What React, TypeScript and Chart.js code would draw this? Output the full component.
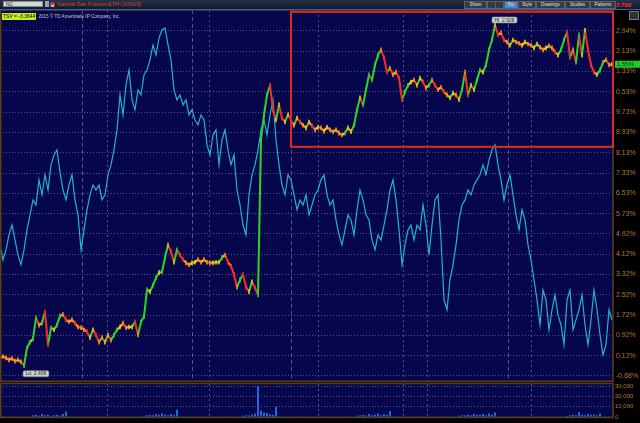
import React, { useEffect, useRef } from "react";
import { Chart, registerables } from "chart.js";

Chart.register(...registerables);

// ---------- data (x = bar index, one bar every 3 px-equivalent of time) ----------
const X_MAX = 204.33;

const TSV_VALUES = [
  4.49, 3.9, 4.29, 4.88, 5.27, 4.68, 4.09, 3.7, 4.29, 5.08,
  5.67, 6.26, 6.06, 7.05, 6.46, 7.25, 6.65, 7.64, 8.03, 8.23,
  7.36, 6.65, 6.26, 6.85, 7.25, 6.26, 5.67, 4.29, 5.08, 5.87,
  6.46, 6.85, 6.65, 6.85, 6.26, 6.46, 7.25, 7.64, 8.23, 9.02,
  10.4, 9.61, 10.79, 11.38, 10.2, 9.81, 10.59, 10.4, 11.19, 11.38,
  11.78, 12.37, 11.97, 12.64, 12.96, 13.04, 12.37, 11.78, 10.59, 10.2,
  10.4, 10.0, 10.2, 9.61, 9.81, 9.41, 9.22, 9.61, 9.41, 8.43,
  8.03, 8.82, 9.02, 7.64, 8.62, 9.02, 8.23, 7.64, 8.03, 6.65,
  6.06, 5.27, 4.88, 6.46, 7.25, 7.64, 8.23, 9.02, 9.41, 8.82,
  9.61, 10.2, 8.62, 7.64, 6.85, 6.46, 7.25, 7.05, 6.46, 5.87,
  6.26, 6.06, 6.46, 5.67, 6.06, 6.46, 6.65, 7.05, 7.25, 6.46,
  6.06, 6.26, 5.47, 4.88, 4.49, 5.08, 5.67, 5.47, 4.88, 5.87,
  6.65, 6.26, 5.67, 5.47, 4.68, 4.29, 4.88, 4.68, 5.27, 5.87,
  6.65, 7.05, 6.26, 5.08, 3.7, 4.49, 5.08, 5.27, 4.68, 5.27,
  5.08, 6.06, 5.27, 4.09, 5.27, 6.26, 6.46, 4.68, 2.32, 1.93,
  3.11, 3.7, 4.49, 5.47, 6.06, 6.26, 6.65, 6.46, 6.85, 7.05,
  7.25, 7.64, 7.25, 7.84, 8.23, 8.43, 7.64, 7.05, 6.26, 6.85,
  7.25, 6.46, 5.67, 5.08, 5.87, 5.47, 4.49, 3.9, 3.11, 2.32,
  1.33, 2.71, 2.32, 1.14, 1.93, 2.52, 1.73, 1.33, 0.55, 2.32,
  2.71, 1.14, 1.53, 1.93, 2.52, 1.33, 0.55, 1.53, 2.71, 1.93,
  0.94, 0.15, 0.55, 1.93, 1.53,
];

const PRICE_VALUES = [
  2.42, 2.422, 2.42, 2.417, 2.419, 2.415, 2.417, 2.414, 2.408, 2.435,
  2.444, 2.449, 2.481, 2.47, 2.473, 2.49, 2.44, 2.466, 2.463, 2.47,
  2.484, 2.486, 2.478, 2.475, 2.478, 2.473, 2.467, 2.466, 2.463, 2.46,
  2.451, 2.463, 2.455, 2.444, 2.451, 2.444, 2.455, 2.447, 2.455, 2.463,
  2.467, 2.473, 2.466, 2.467, 2.467, 2.475, 2.455, 2.475, 2.483, 2.524,
  2.521, 2.531, 2.542, 2.55, 2.551, 2.573, 2.592, 2.582, 2.566, 2.585,
  2.577, 2.57, 2.565, 2.562, 2.565, 2.566, 2.57, 2.566, 2.57, 2.566,
  2.565, 2.565, 2.566, 2.566, 2.573, 2.577, 2.566, 2.56, 2.547, 2.528,
  2.539, 2.547, 2.528, 2.521, 2.536, 2.527, 2.516, 2.753, 2.791, 2.821,
  2.836, 2.798, 2.783, 2.806, 2.786, 2.78, 2.791, 2.783, 2.775, 2.786,
  2.78, 2.775, 2.771, 2.78, 2.774, 2.768, 2.772, 2.771, 2.766, 2.772,
  2.768, 2.765, 2.768, 2.763, 2.76, 2.763, 2.771, 2.765, 2.775, 2.798,
  2.817, 2.806, 2.829, 2.852, 2.844, 2.867, 2.882, 2.89, 2.878, 2.856,
  2.862, 2.852, 2.856, 2.847, 2.814, 2.826, 2.836, 2.841, 2.844, 2.836,
  2.847, 2.841, 2.832, 2.836, 2.844, 2.836, 2.829, 2.833, 2.826, 2.821,
  2.817, 2.824, 2.821, 2.814, 2.829, 2.856, 2.821, 2.836, 2.829, 2.844,
  2.859, 2.856, 2.867, 2.89, 2.905, 2.928, 2.913, 2.916, 2.905, 2.902,
  2.897, 2.905, 2.902, 2.9, 2.897, 2.902, 2.899, 2.897, 2.893, 2.899,
  2.894, 2.89, 2.893, 2.896, 2.893, 2.887, 2.882, 2.89, 2.905, 2.917,
  2.878, 2.89, 2.871, 2.913, 2.882, 2.92, 2.89, 2.867, 2.856, 2.852,
  2.859, 2.871, 2.875, 2.867, 2.868,
];

const VOLUME_VALUES = [
  0, 0, 0, 0, 0, 0, 0, 0, 0, 0,
  0, 1500, 2000, 1000, 2500, 1500, 2000, 1000, 1500, 2000,
  1200, 2500, 5000, 0, 0, 0, 0, 0, 0, 0,
  0, 0, 0, 0, 0, 0, 0, 0, 0, 0,
  0, 0, 0, 0, 0, 0, 0, 0, 1000, 1500,
  2000, 1500, 2500, 1800, 3000, 2000, 1500, 2500, 2000, 7000,
  0, 0, 0, 0, 0, 0, 0, 0, 0, 0,
  0, 0, 0, 0, 0, 0, 0, 0, 0, 0,
  0, 1000, 1500, 1200, 2000, 3000, 30000, 6000, 4000, 3500,
  2500, 2000, 9500, 0, 0, 0, 0, 0, 0, 0,
  0, 0, 0, 0, 0, 0, 0, 0, 0, 0,
  0, 0, 0, 0, 0, 0, 0, 0, 0, 1000,
  1500, 2000, 1200, 2500, 1500, 2000, 3000, 1500, 2500, 2000,
  5500, 0, 0, 0, 0, 0, 0, 0, 0, 0,
  0, 0, 0, 0, 0, 0, 0, 0, 0, 0,
  0, 0, 0, 1000, 1500, 1200, 2000, 1500, 2500, 1800,
  2000, 2500, 1500, 3000, 2000, 4000, 0, 0, 0, 0,
  0, 0, 0, 0, 0, 0, 0, 0, 0, 0,
  0, 0, 0, 0, 0, 0, 0, 0, 0, 1000,
  1500, 2000, 1500, 4500, 2000, 1500, 2500, 1800, 2000, 1500,
  3000, 0, 0, 0, 0,
];

const DAY_LABELS = ["Wed", "Thu", "Fri", "Sun", "Mon", "Tue"];
const DAY_POSITIONS = [35.67, 69.67, 106, 134.33, 142.33, 177];
const SESSION_POSITIONS = [27.33, 64, 97, 169.33];

const TSV_TICK_VALUES = [-0.68, 0.12, 0.92, 1.72, 2.52, 3.32, 4.12, 4.92, 5.72, 6.52, 7.32, 8.12, 8.92, 9.72, 10.52, 11.32, 12.12, 12.92];
const TSV_TICK_LABELS = ["-0.68%", "0.12%", "0.92%", "1.72%", "2.52%", "3.32%", "4.12%", "4.92%", "5.73%", "6.53%", "7.33%", "8.13%", "8.93%", "9.73%", "0.53%", "1.33%", "2.13%", "2.94%"];
const TSV_RANGE = [-0.871, 13.746];
const PRICE_RANGE = [2.385, 2.9508];

const VOLUME_TICK_VALUES = [0, 10000, 20000, 30000];
const VOLUME_TICK_LABELS = ["0", "10,000", "20,000", "30,000"];
const VOLUME_MAX = 32350;

const HIGHLIGHT_BOX = { x0: 97, x1: X_MAX, pLow: 2.742, pHigh: 2.948 };
const LAST_PRICE_LABEL = "1.55%";
const TSV_READOUT = "TSV = -3.3644";
const COPYRIGHT = "2015 © TD Ameritrade IP Company, Inc.";
const SYMBOL = "NG";
const TITLE = "Natural Gas Futures,ETH (JUN15)";
const LAST_QUOTE = "2.798";

// ---------- styles ----------
const NAVY = "#06064c";
const BROWN = "#5e3c1c";
const AXIS_TEXT = "#b8782c";
const GRID = "rgba(150,120,175,0.6)";
const VLINE = "rgba(150,140,190,0.55)";
const FONT = "'Liberation Sans', Arial, sans-serif";
const UP = "#2bd62a";
const DOWN = "#ff2b22";
const FLAT_UP = "#f2c818";
const FLAT_DOWN = "#ff8e1c";

function drawBubble(ctx: CanvasRenderingContext2D, text: string, left: number, top: number) {
  ctx.save();
  ctx.font = `5px ${FONT}`;
  const w = ctx.measureText(text).width + 5;
  const h = 6;
  ctx.fillStyle = "#cfcfcf";
  ctx.strokeStyle = "#8a8a8a";
  ctx.lineWidth = 0.6;
  ctx.beginPath();
  (ctx as any).roundRect(left, top, w, h, 1.5);
  ctx.fill();
  ctx.stroke();
  ctx.fillStyle = "#303030";
  ctx.textBaseline = "middle";
  ctx.fillText(text, left + 2.5, top + h / 2 + 0.3);
  ctx.restore();
}

const mainDeco = {
  id: "mainDeco",
  beforeDraw(chart: any) {
    const { ctx, chartArea: a } = chart;
    ctx.save();
    ctx.fillStyle = NAVY;
    ctx.fillRect(a.left, a.top, a.right - a.left, a.bottom - a.top);
    ctx.restore();
  },
  beforeDatasetsDraw(chart: any) {
    const { ctx, chartArea: a, scales } = chart;
    const xs = scales.x;
    ctx.save();
    ctx.lineWidth = 1;
    ctx.strokeStyle = VLINE;
    ctx.setLineDash([4, 3]);
    for (const v of SESSION_POSITIONS) {
      const px = Math.round(xs.getPixelForValue(v)) + 0.5;
      ctx.beginPath();
      ctx.moveTo(px, a.top);
      ctx.lineTo(px, a.bottom);
      ctx.stroke();
    }
    ctx.setLineDash([2, 3]);
    for (const v of DAY_POSITIONS) {
      const px = Math.round(xs.getPixelForValue(v)) + 0.5;
      ctx.beginPath();
      ctx.moveTo(px, a.top);
      ctx.lineTo(px, a.bottom);
      ctx.stroke();
    }
    ctx.restore();
  },
  afterDraw(chart: any) {
    const { ctx, chartArea: a, scales } = chart;
    const xs = scales.x;
    const yp = scales.yP;
    ctx.save();
    ctx.strokeStyle = BROWN;
    ctx.lineWidth = 1.5;
    ctx.strokeRect(a.left + 0.75, a.top, a.right - a.left - 0.75, a.bottom - a.top + 0.5);
    const bx0 = xs.getPixelForValue(HIGHLIGHT_BOX.x0);
    const bx1 = xs.getPixelForValue(HIGHLIGHT_BOX.x1);
    const by0 = yp.getPixelForValue(HIGHLIGHT_BOX.pHigh);
    const by1 = yp.getPixelForValue(HIGHLIGHT_BOX.pLow);
    ctx.strokeStyle = "#e4271c";
    ctx.lineWidth = 2;
    ctx.strokeRect(bx0, by0, bx1 - bx0, by1 - by0);
    let hiI = 0;
    let loI = 0;
    PRICE_VALUES.forEach((v, i) => {
      if (v > PRICE_VALUES[hiI]) hiI = i;
      if (v < PRICE_VALUES[loI]) loI = i;
    });
    const hx = xs.getPixelForValue(hiI);
    const hy = yp.getPixelForValue(PRICE_VALUES[hiI]);
    drawBubble(ctx, `Hi: ${PRICE_VALUES[hiI].toFixed(3)}`, hx - 3, hy - 8);
    const lx = xs.getPixelForValue(loI);
    const ly = yp.getPixelForValue(PRICE_VALUES[loI]);
    drawBubble(ctx, `Lo: ${PRICE_VALUES[loI].toFixed(3)}`, lx - 1, ly + 5);
    const last = PRICE_VALUES[PRICE_VALUES.length - 1];
    const my = yp.getPixelForValue(last);
    ctx.fillStyle = "#1fcc2a";
    ctx.fillRect(a.right + 2, my - 3.5, chart.width - a.right - 2, 7);
    ctx.fillStyle = "#0a2a0a";
    ctx.font = `6px ${FONT}`;
    ctx.textBaseline = "middle";
    ctx.fillText(LAST_PRICE_LABEL, a.right + 4, my + 0.3);
    ctx.restore();
  },
};

const volDeco = {
  id: "volDeco",
  beforeDraw(chart: any) {
    const { ctx, chartArea: a } = chart;
    ctx.save();
    ctx.fillStyle = NAVY;
    ctx.fillRect(a.left, a.top, a.right - a.left, a.bottom - a.top);
    ctx.restore();
  },
  beforeDatasetsDraw(chart: any) {
    const { ctx, chartArea: a, scales } = chart;
    ctx.save();
    ctx.lineWidth = 1;
    ctx.strokeStyle = VLINE;
    ctx.setLineDash([2, 3]);
    for (const v of DAY_POSITIONS) {
      const px = Math.round(scales.x.getPixelForValue(v)) + 0.5;
      ctx.beginPath();
      ctx.moveTo(px, a.top);
      ctx.lineTo(px, a.bottom);
      ctx.stroke();
    }
    ctx.restore();
  },
  afterDraw(chart: any) {
    const { ctx, chartArea: a } = chart;
    ctx.save();
    ctx.strokeStyle = BROWN;
    ctx.lineWidth = 1.5;
    ctx.strokeRect(a.left + 0.75, a.top - 0.5, a.right - a.left - 0.75, a.bottom - a.top + 1);
    ctx.restore();
  },
};

// colour of a price move: strong up green, strong down red, small moves yellow / orange
function moveColor(d: number) {
  if (d > 0.006) return UP;
  if (d < -0.006) return DOWN;
  if (d > 0.002) return FLAT_UP;
  if (d < -0.002) return FLAT_DOWN;
  return d >= 0 ? "#9fd23a" : "#ff5a2a";
}

function priceSegmentColor(c: any) {
  return moveColor(c.p1.parsed.y - c.p0.parsed.y);
}

function pricePointColor(c: any) {
  const i = c.dataIndex;
  if (i === undefined) return FLAT_UP;
  const next = PRICE_VALUES[Math.min(i + 1, PRICE_VALUES.length - 1)];
  const prev = PRICE_VALUES[Math.max(i - 1, 0)];
  const d = next - prev;
  return d > 0 ? (d > 0.01 ? UP : FLAT_UP) : d < -0.01 ? DOWN : FLAT_DOWN;
}

export default function App() {
  const mainRef = useRef<HTMLCanvasElement | null>(null);
  const volRef = useRef<HTMLCanvasElement | null>(null);

  useEffect(() => {
    const priceData = PRICE_VALUES.map((v, i) => ({ x: i, y: v }));
    const tsvData = TSV_VALUES.map((v, i) => ({ x: i, y: v }));
    const volData = VOLUME_VALUES.map((v, i) => ({ x: i, y: v }));

    const main = new Chart(mainRef.current as HTMLCanvasElement, {
      type: "line",
      data: {
        datasets: [
          {
            label: "Natural Gas Futures",
            data: priceData,
            yAxisID: "yP",
            borderWidth: 2,
            borderColor: FLAT_UP,
            segment: { borderColor: priceSegmentColor },
            pointStyle: "line",
            rotation: 90,
            pointRadius: 2.3,
            pointBorderWidth: 1.6,
            pointBorderColor: pricePointColor,
            pointBackgroundColor: pricePointColor,
          } as any,
          {
            label: "TSV",
            data: tsvData,
            yAxisID: "y",
            borderWidth: 1.2,
            pointRadius: 0,
            borderColor: "#22b4c8",
          },
        ],
      },
      options: {
        animation: false,
        responsive: false,
        events: [],
        layout: { autoPadding: false, padding: { top: 10, bottom: 7, left: 0, right: 0 } },
        plugins: { legend: { display: false }, tooltip: { enabled: false } },
        scales: {
          x: { type: "linear", min: 0, max: X_MAX, display: false },
          yP: { type: "linear", min: PRICE_RANGE[0], max: PRICE_RANGE[1], display: false },
          y: {
            type: "linear",
            position: "right",
            min: TSV_RANGE[0],
            max: TSV_RANGE[1],
            afterBuildTicks: (axis: any) => {
              axis.ticks = TSV_TICK_VALUES.map((v) => ({ value: v }));
            },
            afterFit: (axis: any) => {
              axis.width = 27;
            },
            ticks: {
              autoSkip: false,
              color: AXIS_TEXT,
              padding: 3,
              font: { size: 7, family: FONT },
              callback: (_v: any, i: number) => TSV_TICK_LABELS[i],
            },
            grid: { color: GRID, lineWidth: 1, drawTicks: false },
            border: { display: false, dash: [1, 2] },
          } as any,
        },
      } as any,
      plugins: [mainDeco],
    });

    const vol = new Chart(volRef.current as HTMLCanvasElement, {
      type: "bar",
      data: {
        datasets: [
          {
            label: "Volume",
            data: volData,
            backgroundColor: "#2a6ee0",
            barThickness: 1.2,
            yAxisID: "yV",
          } as any,
        ],
      },
      options: {
        animation: false,
        responsive: false,
        events: [],
        layout: { autoPadding: false, padding: { top: 7, bottom: 0, left: 0, right: 0 } },
        plugins: { legend: { display: false }, tooltip: { enabled: false } },
        scales: {
          x: {
            type: "linear",
            min: 0,
            max: X_MAX,
            offset: false,
            grid: { display: false },
            border: { display: false },
            afterBuildTicks: (axis: any) => {
              axis.ticks = DAY_POSITIONS.map((v) => ({ value: v }));
            },
            afterFit: (axis: any) => {
              axis.height = 6;
            },
            ticks: {
              autoSkip: false,
              maxRotation: 0,
              align: "start",
              padding: 0,
              color: AXIS_TEXT,
              font: { size: 6, family: FONT },
              callback: (_v: any, i: number) => DAY_LABELS[i],
            },
          } as any,
          yV: {
            type: "linear",
            position: "right",
            min: 0,
            max: VOLUME_MAX,
            afterBuildTicks: (axis: any) => {
              axis.ticks = VOLUME_TICK_VALUES.map((v) => ({ value: v }));
            },
            afterFit: (axis: any) => {
              axis.width = 27;
            },
            ticks: {
              autoSkip: false,
              color: AXIS_TEXT,
              padding: 2,
              font: { size: 6, family: FONT },
              callback: (_v: any, i: number) => VOLUME_TICK_LABELS[i],
            },
            grid: { color: GRID, lineWidth: 1, drawTicks: false },
            border: { display: false, dash: [1, 2] },
          } as any,
        },
      } as any,
      plugins: [volDeco],
    });

    return () => {
      main.destroy();
      vol.destroy();
    };
  }, []);

  const btn = (label: string, left: number, width: number, bg = "#353a46") => (
    <div
      style={{
        position: "absolute",
        left,
        top: 1,
        width,
        height: 6,
        background: bg,
        border: "0.5px solid #5a606c",
        color: "#e0e0e0",
        fontSize: 4.5,
        lineHeight: "6px",
        textAlign: "center",
        overflow: "hidden",
        whiteSpace: "nowrap",
      }}
    >
      {label}
    </div>
  );

  return (
    <div
      style={{
        position: "fixed",
        left: 0,
        top: 0,
        width: 640,
        height: 423,
        background: "#000",
        overflow: "hidden",
        fontFamily: FONT,
      }}
    >
      <canvas ref={mainRef} width={640} height={388} style={{ position: "absolute", left: 0, top: 0, width: 640, height: 388 }} />
      <canvas ref={volRef} width={640} height={46} style={{ position: "absolute", left: 0, top: 377, width: 640, height: 46 }} />

      <div
        style={{
          position: "absolute",
          left: 0,
          top: 0,
          width: 640,
          height: 9,
          background: "linear-gradient(#27324a, #111a2b)",
          borderBottom: "1px solid #2b64b4",
        }}
      >
        <div
          style={{
            position: "absolute",
            left: 3,
            top: 1,
            width: 40,
            height: 6,
            background: "#d6d6d6",
            border: "0.5px solid #888",
            color: "#222",
            fontSize: 4.5,
            lineHeight: "6px",
            paddingLeft: 2,
            boxSizing: "border-box",
          }}
        >
          {SYMBOL}
        </div>
        <div style={{ position: "absolute", left: 45, top: 1, width: 4, height: 6, background: "#9aa0aa" }} />
        <div
          style={{
            position: "absolute",
            left: 50,
            top: 1.5,
            width: 5,
            height: 5,
            borderRadius: 3,
            background: "conic-gradient(#e33 0 33%, #fc3 0 66%, #36f 0)",
          }}
        />
        <div style={{ position: "absolute", left: 57, top: 1, color: "#d8461e", fontSize: 5.5, lineHeight: "7px", whiteSpace: "nowrap" }}>
          {TITLE}
        </div>
        {btn("Share", 464, 21)}
        {btn("", 487, 7)}
        {btn("", 495, 7)}
        {btn("5m", 504, 12, "#4d86c8")}
        {btn("Style", 518, 16)}
        {btn("Drawings", 536, 27)}
        {btn("Studies", 565, 23)}
        {btn("Patterns", 590, 24)}
        <div style={{ position: "absolute", left: 616, top: 0.5, color: "#ff2a22", fontSize: 6, fontWeight: 700, lineHeight: "8px" }}>
          {LAST_QUOTE}
        </div>
      </div>

      <div style={{ position: "absolute", left: 2, top: 13, height: 7, display: "flex", alignItems: "center", whiteSpace: "nowrap" }}>
        <span style={{ background: "#c6ee1e", color: "#000", fontSize: 5, lineHeight: "7px", padding: "0 1px" }}>{TSV_READOUT}</span>
        <span style={{ color: "#c8c8d8", fontSize: 4.6, lineHeight: "7px", marginLeft: 2 }}>{COPYRIGHT}</span>
      </div>

      <div style={{ position: "absolute", left: 629, top: 11, width: 10, height: 9, background: "#2c313c", border: "0.5px solid #777", boxSizing: "border-box" }} />
    </div>
  );
}
